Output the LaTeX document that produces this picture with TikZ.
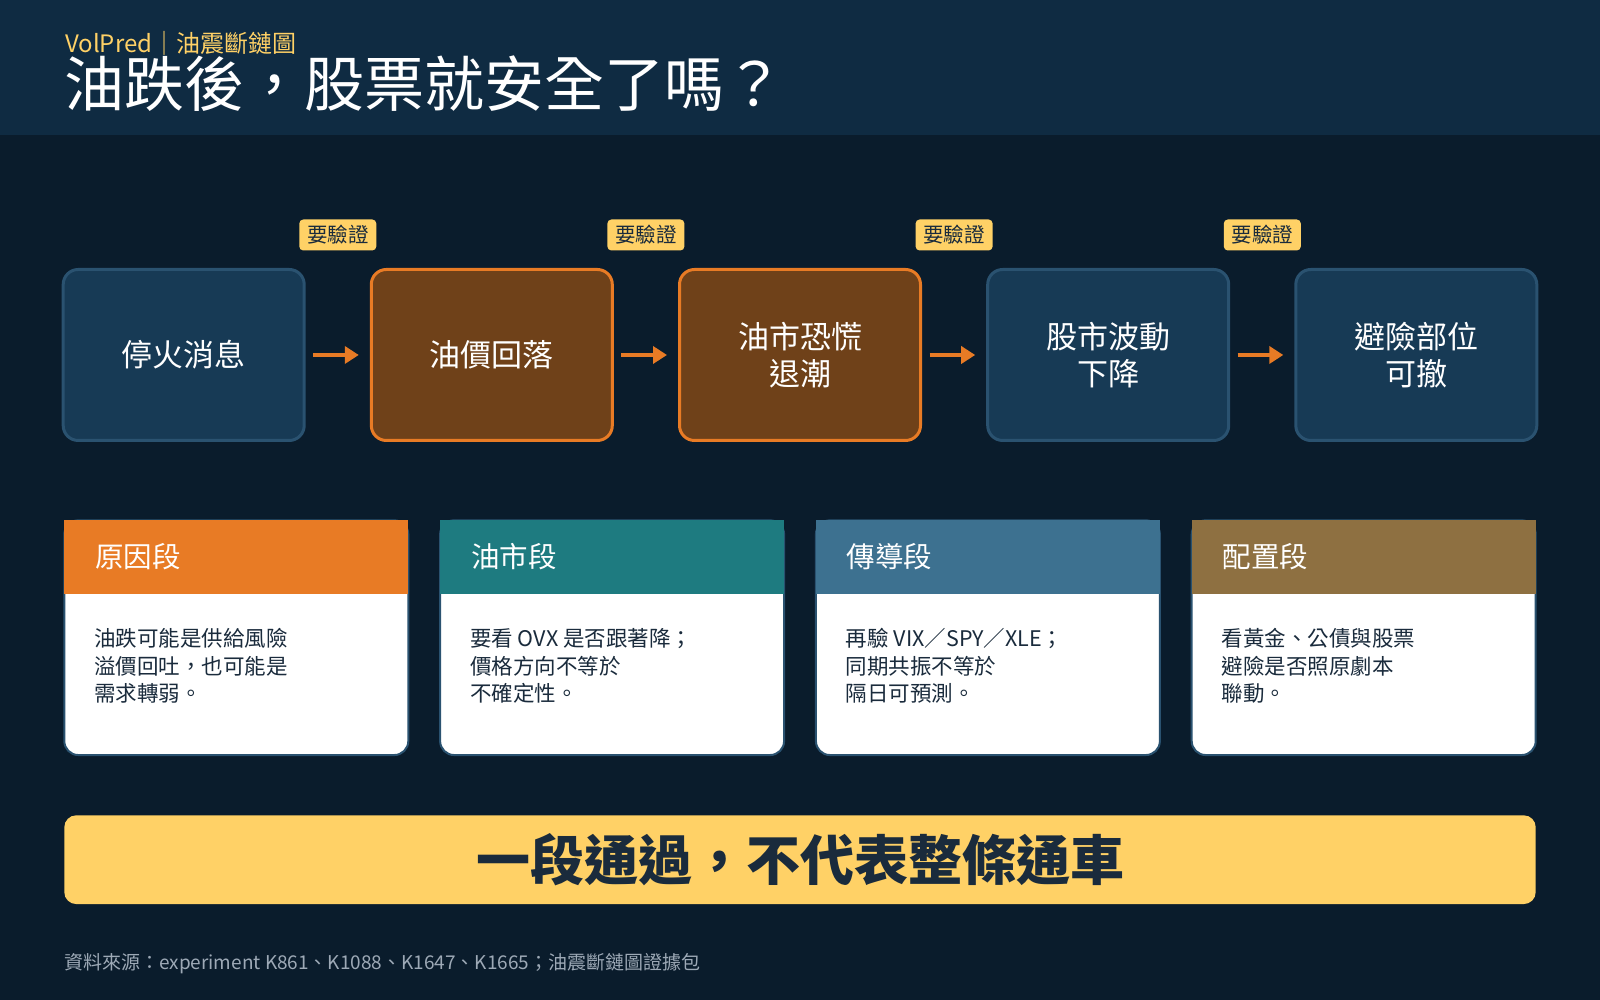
\documentclass[tikz,border=0pt]{standalone}
\usepackage{fontspec}
\setmainfont{Noto Sans CJK TC}
\usetikzlibrary{positioning, arrows.meta}
\definecolor{bgnavy}{HTML}{0A1C2C}
\definecolor{topband}{HTML}{0F2B42}
\definecolor{stepblue}{HTML}{173A55}
\definecolor{stepblueline}{HTML}{2A5270}
\definecolor{steporange}{HTML}{6F4119}
\definecolor{vporange}{HTML}{E87B25}
\definecolor{vpgold}{HTML}{FFD166}
\definecolor{vpteal}{HTML}{1E7B80}
\definecolor{vpsteel}{HTML}{3D7190}
\definecolor{vpbrown}{HTML}{8E7041}
\definecolor{inknavy}{HTML}{1A2B3C}
\definecolor{footgray}{HTML}{9DA9B6}

\begin{document}
\begin{tikzpicture}[x=1pt, y=1pt,
  flowbox/.style={draw=stepblueline, fill=stepblue, line width=3pt,
                  rounded corners=15pt, minimum width=241pt, minimum height=171pt,
                  align=center, text=white, font=\fontsize{31}{37}\selectfont},
  hotbox/.style={flowbox, draw=vporange, fill=steporange},
  checktag/.style={fill=vpgold, rounded corners=4pt, minimum width=77pt,
                   minimum height=31pt, inner sep=0pt, text=inknavy,
                   font=\fontsize{20.5}{22}\selectfont},
  flowarrow/.style={draw=vporange, line width=4pt,
                    -{Triangle[length=14pt, width=17pt]},
                    shorten <=7.5pt, shorten >=11pt},
  card/.style={draw=stepblueline, fill=white, line width=2pt,
               rounded corners=14pt, minimum width=344pt, minimum height=234.7pt},
  cardhead/.style={minimum width=344pt, minimum height=74.5pt, text width=282pt,
                   inner xsep=31pt, inner ysep=0pt, align=left, text=white,
                   anchor=north, font=\fontsize{28.5}{30}\selectfont},
  cardtext/.style={inner sep=0pt, align=left, text=inknavy,
                   font=\fontsize{21.5}{27.5}\selectfont},
]
% background and top band
\fill[bgnavy] (0,0) rectangle (1600,1000);
\fill[topband] (0,865) rectangle (1600,1000);
\useasboundingbox (0,0) rectangle (1600,1000);

\node[anchor=base west, inner sep=0pt, text=vpgold,
      font=\fontsize{24}{26}\selectfont] (brand) at (65,947) {VolPred｜油震斷鏈圖};
\node[anchor=base west, inner sep=0pt, text=white,
      font=\fontsize{60}{64}\selectfont] (title) at (64,893) {油跌後，股票就安全了嗎？};

% chain
\node[flowbox] (b1) at (183.7,645) {停火消息};
\node[hotbox]  (b2) at (491.8,645) {油價回落};
\node[hotbox]  (b3) at (800,645)   {油市恐慌\\退潮};
\node[flowbox] (b4) at (1108.2,645) {股市波動\\下降};
\node[flowbox] (b5) at (1416.3,645) {避險部位\\可撤};

\draw[flowarrow] (b1) -- (b2);
\draw[flowarrow] (b2) -- (b3);
\draw[flowarrow] (b3) -- (b4);
\draw[flowarrow] (b4) -- (b5);

\node[checktag] (t1) at (337.8,765) {要驗證};
\node[checktag] (t2) at (645.9,765) {要驗證};
\node[checktag] (t3) at (954.1,765) {要驗證};
\node[checktag] (t4) at (1262.3,765) {要驗證};

% stage cards
\node[card] (c1) at (236.3,362.3) {};
\node[card] (c2) at (612.1,362.3) {};
\node[card] (c3) at (987.9,362.3) {};
\node[card] (c4) at (1363.7,362.3) {};

\node[cardhead, fill=vporange] (h1) at (c1.north) {原因段};
\node[cardhead, fill=vpteal]   (h2) at (c2.north) {油市段};
\node[cardhead, fill=vpsteel]  (h3) at (c3.north) {傳導段};
\node[cardhead, fill=vpbrown]  (h4) at (c4.north) {配置段};

\node[cardtext, below right=34pt and 30pt of h1.south west, anchor=north west]
  {油跌可能是供給風險\\溢價回吐，也可能是\\需求轉弱。};
\node[cardtext, below right=34pt and 30pt of h2.south west, anchor=north west]
  {要看 OVX 是否跟著降；\\價格方向不等於\\不確定性。};
\node[cardtext, below right=34pt and 30pt of h3.south west, anchor=north west]
  {再驗 VIX／SPY／XLE；\\同期共振不等於\\隔日可預測。};
\node[cardtext, below right=34pt and 30pt of h4.south west, anchor=north west]
  {看黃金、公債與股票\\避險是否照原劇本\\聯動。};

% bottom line
\node[fill=vpgold, rounded corners=12pt, minimum width=1471.4pt,
      minimum height=88.8pt, text=inknavy,
      font=\fontsize{54}{58}\selectfont\bfseries] (banner) at (800,140.3)
  {一段通過，不代表整條通車};

\node[anchor=west, inner sep=0pt, text=footgray,
      font=\fontsize{19}{21}\selectfont] (source) at (64,36)
  {資料來源：experiment K861、K1088、K1647、K1665；油震斷鏈圖證據包};
\end{tikzpicture}
\end{document}
